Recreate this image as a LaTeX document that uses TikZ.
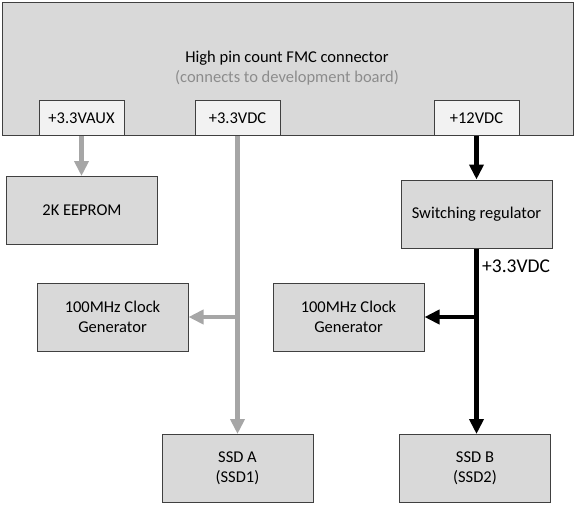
\documentclass[tikz,border=0pt]{standalone}
\usepackage{fontspec}
\setmainfont{Carlito}
\usetikzlibrary{arrows.meta}

\definecolor{boxgray}{HTML}{D9D9D9}
\definecolor{portgray}{HTML}{F2F2F2}
\definecolor{linegray}{HTML}{A6A6A6}
\definecolor{edgegray}{HTML}{404040}
\definecolor{subgray}{HTML}{8C8C8C}

\tikzset{
	txt/.style={font=\fontsize{16.5}{20.5}\selectfont},
	blk/.style={draw=edgegray, line width=1pt, fill=boxgray, align=center, inner sep=0pt, txt},
	port/.style={blk, fill=portgray, minimum width=85pt, minimum height=35pt},
	unit/.style={blk, minimum width=151pt, minimum height=68pt},
	grayline/.style={line width=4.5pt, linegray},
	blackline/.style={line width=4.5pt, black},
	tip/.style={-{Triangle[width=14pt,length=15pt]}}
}

\begin{document}
\begin{tikzpicture}[x=1pt,y=-1pt]
	\useasboundingbox (0,0) rectangle (575,507);
	% FMC connector
	\node[blk, minimum width=571pt, minimum height=133pt] (fmc) at (287.5,68.5) {};
	\node[txt] (title) at (287,58) {High pin count FMC connector};
	\node[txt, text=subgray] (sub) at (287,78) {(connects to development board)};
	% ports
	\node[port] (aux) at (81.5,118) {+3.3VAUX};
	\node[port] (vdc) at (237.5,118) {+3.3VDC};
	\node[port] (twelve) at (476.5,118) {+12VDC};

	% blocks
	\node[unit] (eeprom) at (82,210.5) {2K EEPROM};
	\node[unit] (reg) at (476.5,214) {Switching regulator};
	\node[unit] (clka) at (112.5,317) {100MHz Clock\\Generator};
	\node[unit] (clkb) at (348.5,317) {100MHz Clock\\Generator};
	\node[unit] (ssda) at (237.5,468.5) {SSD A\\(SSD1)};
	\node[unit] (ssdb) at (475,468.5) {SSD B\\(SSD2)};

	% junctions
	\coordinate (ja) at (237.5,317);
	\coordinate (jb) at (476.5,317);

	% gray supply
	\draw[grayline, tip] (aux.south) -- (eeprom.north -| aux.south);
	\draw[grayline, tip] (vdc.south) -- (ssda.north);
	\draw[grayline, tip] (ja) -- (clka.east);

	% black supply
	\draw[blackline, tip] (twelve.south) -- (reg.north);
	\draw[blackline, tip] (reg.south) -- (ssdb.north -| reg.south);
	\draw[blackline, tip] (jb) -- (clkb.east);
	\node[anchor=west, inner sep=0pt, font=\fontsize{19.5}{22}\selectfont] (out) at (482,266) {+3.3VDC};
\end{tikzpicture}
\end{document}
